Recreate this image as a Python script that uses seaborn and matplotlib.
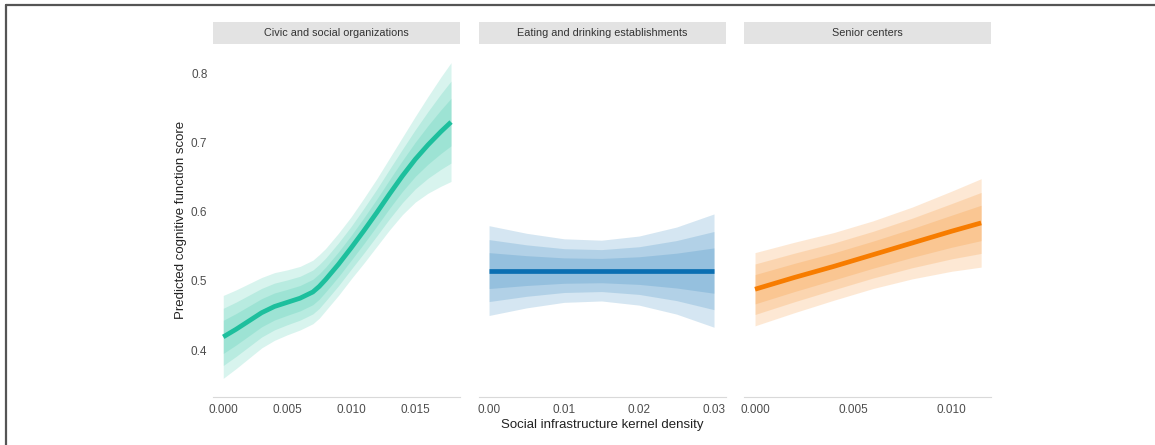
import numpy as np
import pandas as pd
import matplotlib
matplotlib.use("Agg")
import matplotlib.pyplot as plt
from matplotlib.lines import Line2D
from matplotlib.patches import Rectangle
import seaborn as sns

# ------------------------------------------------------------
# Data (fit + outer ribbon half-width)
# ------------------------------------------------------------
panels = ["Civic and social organizations",
          "Eating and drinking establishments",
          "Senior centers"]

civic_x = [0.000, 0.001, 0.002, 0.003, 0.004, 0.005, 0.006, 0.007, 0.0075, 0.008,
           0.009, 0.010, 0.011, 0.012, 0.013, 0.014, 0.015, 0.016, 0.017, 0.0178]
civic_fit = [0.419, 0.430, 0.442, 0.454, 0.463, 0.469, 0.475, 0.484, 0.492, 0.502,
             0.524, 0.548, 0.573, 0.599, 0.626, 0.652, 0.676, 0.697, 0.716, 0.730]
civic_hw = [0.060, 0.057, 0.054, 0.051, 0.049, 0.047, 0.046, 0.046, 0.046, 0.045,
            0.045, 0.045, 0.047, 0.049, 0.052, 0.056, 0.062, 0.070, 0.079, 0.086]

eat_x = [0.000, 0.005, 0.010, 0.015, 0.020, 0.025, 0.030]
eat_fit = [0.515, 0.515, 0.515, 0.515, 0.515, 0.515, 0.515]
eat_hw = [0.065, 0.054, 0.046, 0.044, 0.050, 0.063, 0.082]

senior_x = [0.000, 0.002, 0.004, 0.006, 0.008, 0.010, 0.0115]
senior_fit = [0.488, 0.505, 0.521, 0.538, 0.555, 0.572, 0.584]
senior_hw = [0.053, 0.051, 0.049, 0.049, 0.052, 0.058, 0.064]

# ribbon widths relative to the outer band
band_frac = [1.0, 0.69, 0.40]

xticks = [[0.000, 0.005, 0.010, 0.015],
          [0.00, 0.01, 0.02, 0.03],
          [0.000, 0.005, 0.010]]
xticklabels = [["0.000", "0.005", "0.010", "0.015"],
               ["0.00", "0.01", "0.02", "0.03"],
               ["0.000", "0.005", "0.010"]]
yticks = [0.4, 0.5, 0.6, 0.7, 0.8]

colors = ["#1dbf9d", "#0b6fb2", "#f77c00"]
xlims = [(-0.0008, 0.0185), (-0.00134, 0.0316), (-0.00056, 0.0120)]

data = [
    pd.DataFrame({"x": civic_x, "fit": civic_fit, "hw": civic_hw}),
    pd.DataFrame({"x": eat_x, "fit": eat_fit, "hw": eat_hw}),
    pd.DataFrame({"x": senior_x, "fit": senior_fit, "hw": senior_hw}),
]

# ------------------------------------------------------------
# Figure
# ------------------------------------------------------------
sns.set_style("white")
plt.rcParams["font.family"] = ["Liberation Sans", "DejaVu Sans"]

W, H = 1155, 445
fig = plt.figure(figsize=(W / 100, H / 100), dpi=100)

panel_left = [213, 479, 744]
panel_w = 247
top_px, bot_px, strip_top = 44, 397, 22

for i, (name, df) in enumerate(zip(panels, data)):
    ax = fig.add_axes([panel_left[i] / W, 1 - bot_px / H,
                       panel_w / W, (bot_px - top_px) / H])
    for f in band_frac:
        ax.fill_between(df["x"], df["fit"] - f * df["hw"], df["fit"] + f * df["hw"],
                        color=colors[i], alpha=0.17, linewidth=0)
    sns.lineplot(data=df, x="x", y="fit", color=colors[i], linewidth=3.4,
                 solid_capstyle="butt", ax=ax)

    ax.set_xlim(*xlims[i])
    ax.set_ylim(0.332, 0.843)
    ax.set_xticks(xticks[i])
    ax.set_xticklabels(xticklabels[i])
    ax.set_yticks(yticks)
    ax.set_xlabel("")
    ax.set_ylabel("")
    ax.tick_params(axis="x", length=2, color="#dddddd", labelsize=8.5,
                   labelcolor="#4d4d4d", pad=3)
    ax.tick_params(axis="y", length=2, color="#dddddd", labelsize=8.5,
                   labelcolor="#4d4d4d", pad=2)
    if i > 0:
        ax.tick_params(axis="y", left=False, labelleft=False)
    for s in ["top", "right", "left"]:
        ax.spines[s].set_visible(False)
    ax.spines["bottom"].set_color("#d9d9d9")
    ax.spines["bottom"].set_linewidth(0.8)

    # facet strip
    fig.add_artist(Rectangle((panel_left[i] / W, 1 - top_px / H),
                             panel_w / W, (top_px - strip_top) / H,
                             transform=fig.transFigure, facecolor="#e3e3e3",
                             edgecolor="none"))
    fig.text((panel_left[i] + panel_w / 2) / W, 1 - (top_px + strip_top) / 2 / H,
             name, ha="center", va="center", fontsize=7.8, color="#333333")

fig.text(181 / W, 1 - 220 / H, "Predicted cognitive function score",
         rotation=90, ha="center", va="center", fontsize=9.5, color="#222222")
fig.text(602 / W, 1 - 425 / H, "Social infrastructure kernel density",
         ha="center", va="center", fontsize=9.5, color="#222222")

# thin frame at top and left edge
fig.add_artist(Line2D([6 / W, 1], [1 - 5 / H, 1 - 5 / H], color="#555555",
                      linewidth=1.6, transform=fig.transFigure))
fig.add_artist(Line2D([6 / W, 6 / W], [0, 1 - 5 / H], color="#555555",
                      linewidth=1.6, transform=fig.transFigure))

fig.savefig("out.png", dpi=100)
